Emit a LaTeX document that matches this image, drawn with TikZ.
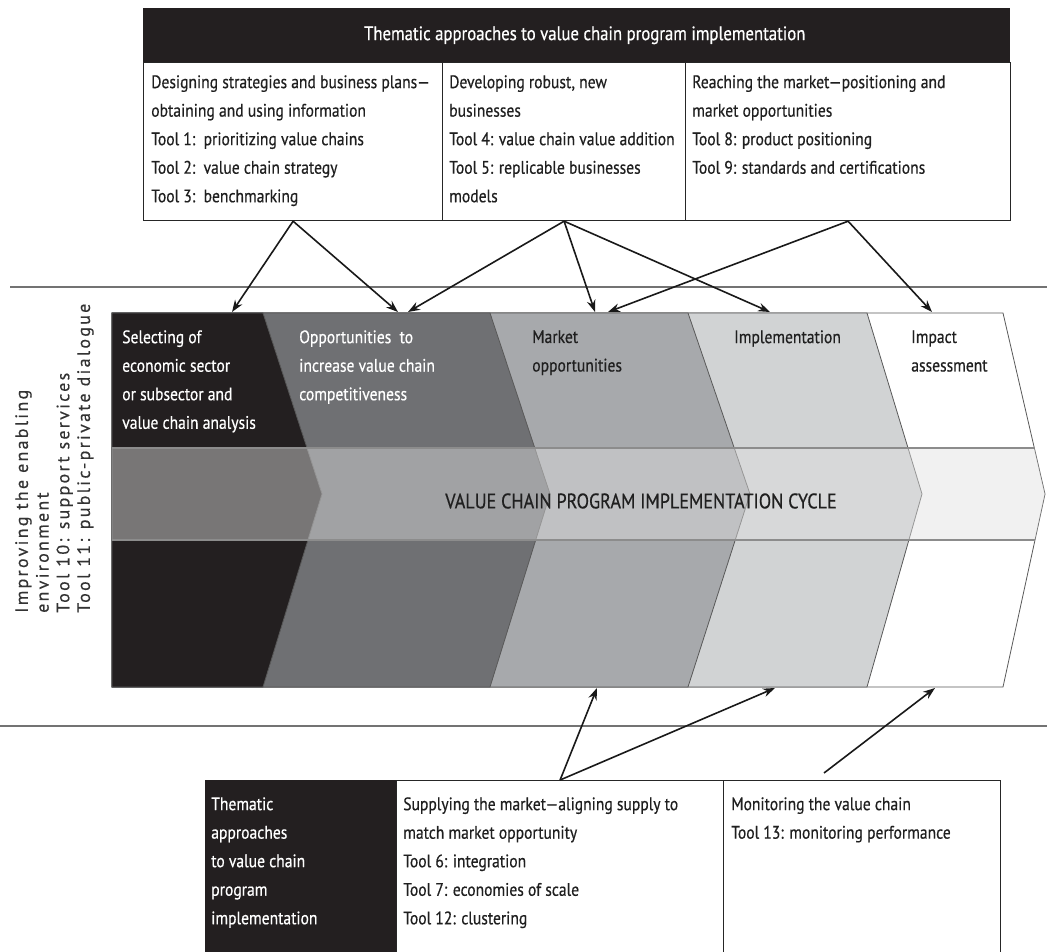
\documentclass[tikz,border=0pt]{standalone}
\usepackage{fontspec}
\setmainfont{PT Sans}[FakeStretch=0.86, FakeBold=0.5]
\newfontfamily\sidefont{PT Sans}[LetterSpace=13, FakeBold=0.5]
\usepackage{tikz}
\usetikzlibrary{arrows.meta}
\usetikzlibrary{positioning}

\definecolor{stageA}{HTML}{231F20}
\definecolor{stageB}{HTML}{6F7073}
\definecolor{stageC}{HTML}{A7A9AC}
\definecolor{stageD}{HTML}{D1D3D4}

\begin{document}
\begin{tikzpicture}[x=0.75pt,y=-0.75pt,
  boxline/.style={draw=black!85, line width=0.9pt, anchor=north west, inner sep=0pt},
  txt/.style={anchor=north west, align=left, inner sep=0pt, text=black!88, font=\fontsize{13.6}{21.4}\selectfont},
  wtxt/.style={txt, text=white},
  stage/.style={draw=black!65, line width=0.6pt},
  link/.style={line width=1.2pt, black!90, -{Stealth[length=9pt,width=6.5pt]}},
  rule/.style={black!55, line width=1.1pt}]
\useasboundingbox (0,0) rectangle (1047,952);

\draw[rule] (10,287) -- (1047,287);
\draw[rule] (0,726) -- (1047,726);

% top boxes
\node[fill=stageA, anchor=north west, inner sep=0pt, minimum width=650.25pt, minimum height=40.5pt, text=white, font=\fontsize{14.6}{16}\selectfont] (head) at (143,8) {\hspace*{12pt}Thematic approaches to value chain program implementation};
\node[boxline, minimum width=224.25pt, minimum height=118.5pt] (plan) at (143,62) {};
\node[boxline, minimum width=182.25pt, minimum height=118.5pt] (robust) at (442,62) {};
\node[boxline, minimum width=243.75pt, minimum height=118.5pt] (reach) at (685,62) {};
\node[txt] (plantext) at ([shift={(8,13)}]plan.north west) {Designing strategies and business plans---\\obtaining and using information\\Tool 1:\ \ prioritizing value chains\\Tool 2:\ \ value chain strategy\\Tool 3:\ \ benchmarking};
\node[txt] (robusttext) at ([shift={(7,13)}]robust.north west) {Developing robust, new\\businesses\\Tool 4: value chain value addition\\Tool 5: replicable businesses\\models};
\node[txt] (reachtext) at ([shift={(7,13)}]reach.north west) {Reaching the market---positioning and\\market opportunities\\Tool 8: product positioning\\Tool 9: standards and certifications};

% chevrons
\foreach \xr/\xa/\col in {1003/1045/white, 867/922/stageD, 688/750/stageC, 490/550/stageB, 263/322/stageA}
  \filldraw[stage, fill=\col] (112,313) -- (\xr,313) -- (\xa,494) -- (\xr,687) -- (112,687) -- cycle;
\begin{scope}
\clip (112,313) -- (1003,313) -- (1045,494) -- (1003,687) -- (112,687) -- cycle;
\fill[black!12, opacity=0.45] (112,448) rectangle (1047,540);
\draw[black!45, line width=0.8pt] (112,448) -- (1047,448) (112,540) -- (1047,540);
\end{scope}

\node[wtxt] (select) at (122,330) {Selecting of\\economic sector\\or subsector and\\value chain analysis};
\node[wtxt] (compete) at (299,330) {Opportunities\ \ to\\increase value chain\\competitiveness};
\node[txt] (market) at (532,330) {Market\\opportunities};
\node[txt] (implement) at (734,330) {Implementation};
\node[txt] (impact) at (911,330) {Impact\\assessment};
\node[text=black!88, font=\fontsize{15.8}{16}\selectfont, inner sep=0pt] (cycle) at (641,501) {VALUE CHAIN PROGRAM IMPLEMENTATION CYCLE};

\node[rotate=90, anchor=north west, inner sep=0pt, align=left, text=black!80, font=\sidefont\fontsize{13.4}{15.5}\selectfont] (enabling) at (15,613) {Improving the enabling\\environment\\Tool 10: support services\\Tool 11: public-private dialogue};

% bottom boxes
\node[fill=stageA, anchor=north west, inner sep=0pt, minimum width=143.25pt, minimum height=135pt] (theme) at (205,780) {};
\node[boxline, minimum width=245.25pt, minimum height=135pt] (supply) at (396,780) {};
\node[boxline, minimum width=207.75pt, minimum height=135pt] (monitor) at (723,780) {};
\node[wtxt] (themetext) at ([shift={(6,17)}]theme.north west) {Thematic\\approaches\\to value chain\\program\\implementation};
\node[txt] (supplytext) at ([shift={(7,17)}]supply.north west) {Supplying the market---aligning supply to\\match market opportunity\\Tool 6: integration\\Tool 7: economies of scale\\Tool 12: clustering};
\node[txt] (monitortext) at ([shift={(8,17)}]monitor.north west) {Monitoring the value chain\\Tool 13: monitoring performance};

% arrow ends
\coordinate (tA) at (232,312);
\coordinate (tB1) at (398,312);
\coordinate (tB2) at (408,312);
\coordinate (tC1) at (595,312);
\coordinate (tC2) at (608,312);
\coordinate (tD) at (770,312);
\coordinate (tE) at (932,312);
\coordinate (bC) at (597,688);
\coordinate (bD) at (775,688);
\coordinate (bE) at (935,688);
\coordinate (mstart) at (824,773);

\draw[link] (plan.south) -- (tA);
\draw[link] (plan.south) -- (tB1);
\draw[link] (robust.south) -- (tB2);
\draw[link] (robust.south) -- (tC1);
\draw[link] (robust.south) -- (tD);
\draw[link] (reach.south) -- (tC2);
\draw[link] (reach.south) -- (tE);
\draw[link] (supply.north) -- (bC);
\draw[link] (supply.north) -- (bD);
\draw[link] (mstart) -- (bE);
\end{tikzpicture}
\end{document}
